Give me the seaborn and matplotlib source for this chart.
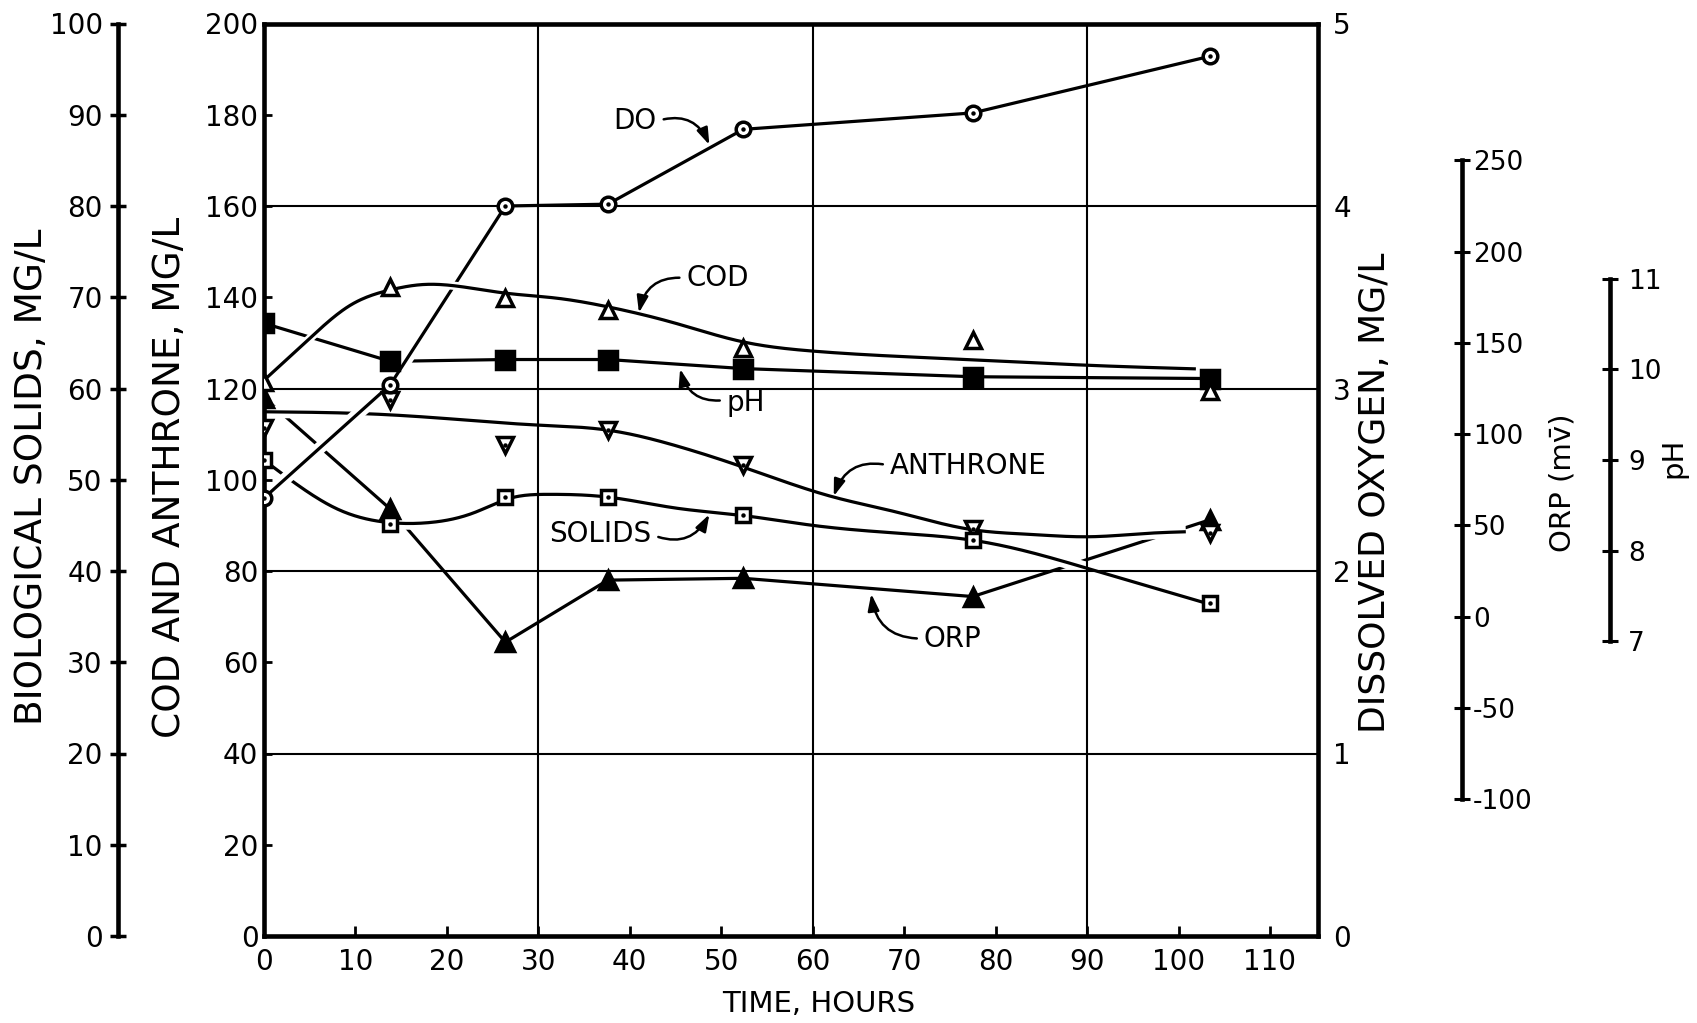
import numpy as np
import matplotlib
matplotlib.use("Agg")
import matplotlib.pyplot as plt
import matplotlib.patheffects as pe
import seaborn as sns

# ---------------- data ----------------
hours = [0, 13.8, 26.4, 37.6, 52.4, 77.5, 103.4]
do_mg_l = [2.40, 3.02, 4.00, 4.01, 4.42, 4.51, 4.82]
cod_mg_l = [121.5, 142.3, 139.8, 137.2, 128.8, 130.6, 119.5]
anthrone_mg_l = [111.3, 117.5, 107.6, 110.9, 103.2, 89.1, 88.3]
solids_mg_l = [52.2, 45.2, 48.1, 48.1, 46.1, 43.4, 36.5]
ph_values = [10.51, 10.09, 10.11, 10.11, 10.01, 9.92, 9.90]
orp_mv = [120, 59, -14, 20, 21, 11, 53]

# hand-drawn smooth curves (nodes)
cod_curve_h = [0, 5, 9.4, 13.8, 17.5, 22, 26.4, 32, 37.6, 45, 52.2, 60, 77.5, 90, 101.9]
cod_curve_v = [121.8, 131.0, 138.2, 141.6, 142.8, 142.2, 140.9, 139.8, 137.9, 134.3,
               130.3, 128.2, 126.3, 125.1, 124.3]
anth_curve_h = [0, 12, 20, 29.8, 37.5, 44.8, 52.2, 62.3, 69, 77.3, 84, 90, 97, 100.8]
anth_curve_v = [114.9, 114.4, 113.4, 112.0, 110.9, 107.6, 102.9, 96.2, 93.0, 89.1,
                88.0, 87.5, 88.3, 88.6]
sol_curve_h = [0, 4, 8, 13.8, 18, 23, 27, 31, 37.6, 45, 52.2, 60, 70, 77.3, 84, 90, 103.1]
sol_curve_v = [52.15, 49.2, 46.8, 45.3, 45.3, 46.4, 48.0, 48.4, 48.1, 46.9, 46.1, 45.0,
               44.1, 43.4, 42.0, 40.3, 36.45]

# axes scales / ticks
x_ticks = list(range(0, 111, 10))
cod_ticks = list(range(0, 201, 20))
bs_ticks = list(range(0, 101, 10))
do_ticks = [0, 1, 2, 3, 4, 5]
orp_ticks = [-100, -50, 0, 50, 100, 150, 200, 250]
ph_ticks = [7, 8, 9, 10, 11]
grid_x = [30, 60, 90]
grid_y = [40, 80, 120, 160]

# annotation labels
ann_text = ["DO", "COD", "pH", "ANTHRONE", "SOLIDS", "ORP"]
ann_text_xy = [(40.6, 178.6), (49.6, 144.2), (52.7, 116.9), (77.0, 103.1), (36.8, 88.0), (75.3, 65.2)]
ann_tip_xy = [(48.7, 173.4), (41.0, 136.6), (45.5, 124.3), (62.3, 96.4), (48.7, 92.4), (66.4, 75.0)]
ann_relpos = [(1, 0.5), (0, 0.5), (0, 0.6), (0, 0.5), (1, 0.5), (0, 0.5)]
ann_rad = [-0.45, 0.45, -0.45, 0.45, 0.45, -0.45]

# ---------------- style ----------------
plt.rcParams["font.family"] = ["DejaVu Sans"]
plt.rcParams["axes.unicode_minus"] = False
plt.rcParams["text.color"] = "black"

W, H = 1697, 1023
fig = plt.figure(figsize=(W / 100, H / 100), dpi=100, facecolor="white")
L, R, T, B = 264, 1318, 23.5, 936
ax = fig.add_axes([L / W, 1 - B / H, (R - L) / W, (B - T) / H])
ax.set_xlim(0, (R - L) / 9.145)
ax.set_ylim(0, 200)

ax_bs = ax.twinx()
ax_do = ax.twinx()
ax_orp = ax.twinx()
ax_ph = ax.twinx()
ax_bs.set_ylim(0, 100)
ax_do.set_ylim(0, 5)
ax_orp.set_ylim(-175, 325)
ax_ph.set_ylim(3.745, 13.82)

SPW = 3.3
for s in ax.spines.values():
    s.set_linewidth(SPW)
    s.set_color("black")
for a in (ax_bs, ax_do, ax_orp, ax_ph):
    for s in a.spines.values():
        s.set_visible(False)

# main axis ticks
ax.set_xticks(x_ticks)
ax.set_yticks(cod_ticks)
ax.tick_params(axis="x", direction="in", length=7, width=2, labelsize=20, pad=9, top=False)
ax.tick_params(axis="y", direction="in", length=6, width=2, labelsize=20, pad=4, right=False)

# biological solids axis (far left)
ax_bs.yaxis.set_ticks_position("left")
ax_bs.spines["left"].set_visible(True)
ax_bs.spines["left"].set_position(("axes", -0.1385))
ax_bs.spines["left"].set_linewidth(SPW)
ax_bs.set_yticks(bs_ticks)
ax_bs.tick_params(axis="y", direction="inout", length=12, width=2.5, labelsize=20, pad=5,
                  left=True, right=False, labelleft=True, labelright=False)

# dissolved oxygen axis (main right)
ax_do.set_yticks(do_ticks)
ax_do.tick_params(axis="y", length=0, labelsize=20, pad=11)

# ORP axis
ax_orp.spines["right"].set_visible(True)
ax_orp.spines["right"].set_position(("axes", 1.1366))
ax_orp.spines["right"].set_bounds(-100, 250)
ax_orp.spines["right"].set_linewidth(SPW)
ax_orp.set_yticks(orp_ticks)
ax_orp.tick_params(axis="y", direction="inout", length=12, width=2.2, labelsize=19, pad=2)

# pH axis
ax_ph.spines["right"].set_visible(True)
ax_ph.spines["right"].set_position(("axes", 1.277))
ax_ph.spines["right"].set_bounds(7, 11)
ax_ph.spines["right"].set_linewidth(SPW)
ax_ph.set_yticks(ph_ticks)
ax_ph.tick_params(axis="y", direction="inout", length=12, width=2.2, labelsize=19, pad=7)

# grid
for gx in grid_x:
    ax.axvline(gx, color="black", lw=1.5, zorder=2.5)
for gy in grid_y:
    ax.axhline(gy, color="black", lw=1.5, zorder=2.5)


def natural_spline(xs, ys, n=500):
    x = np.asarray(xs, float)
    y = np.asarray(ys, float)
    m = len(x)
    h = np.diff(x)
    A = np.zeros((m, m))
    rhs = np.zeros(m)
    A[0, 0] = 1
    A[-1, -1] = 1
    for i in range(1, m - 1):
        A[i, i - 1] = h[i - 1]
        A[i, i] = 2 * (h[i - 1] + h[i])
        A[i, i + 1] = h[i]
        rhs[i] = 3 * ((y[i + 1] - y[i]) / h[i] - (y[i] - y[i - 1]) / h[i - 1])
    c = np.linalg.solve(A, rhs)
    b = (y[1:] - y[:-1]) / h - h * (2 * c[:-1] + c[1:]) / 3
    d = (c[1:] - c[:-1]) / (3 * h)
    xx = np.linspace(x[0], x[-1], n)
    idx = np.clip(np.searchsorted(x, xx, side="right") - 1, 0, m - 2)
    dx = xx - x[idx]
    yy = y[idx] + b[idx] * dx + c[idx] * dx ** 2 + d[idx] * dx ** 3
    return xx, yy


def add_line(x, y, target, z, halo=None, lw=2.3):
    sns.lineplot(x=np.asarray(x), y=np.asarray(y), ax=ax, color="black", linewidth=lw,
                 estimator=None, sort=False, legend=False)
    ln = ax.lines[-1]
    ln.set_transform(target.transData)
    ln.set_zorder(z)
    ln.set_solid_capstyle("butt")
    if halo:
        ln.set_path_effects([pe.withStroke(linewidth=halo, foreground="white")])


def add_markers(x, y, target, marker, size, filled, dot=False, z=4):
    sns.lineplot(x=np.asarray(x), y=np.asarray(y), ax=ax, linestyle="", marker=marker,
                 markersize=size, markerfacecolor="black" if filled else "white",
                 markeredgecolor="black", markeredgewidth=2.5, color="black",
                 estimator=None, sort=False, legend=False)
    ln = ax.lines[-1]
    ln.set_transform(target.transData)
    ln.set_zorder(z)
    if dot:
        sns.lineplot(x=np.asarray(x), y=np.asarray(y), ax=ax, linestyle="", marker="o",
                     markersize=3.2, color="black", markeredgewidth=0,
                     estimator=None, sort=False, legend=False)
        d = ax.lines[-1]
        d.set_transform(target.transData)
        d.set_zorder(z + 0.1)


# lines (lower -> upper)
add_line(hours, orp_mv, ax_orp, 1.0)
add_line(hours, ph_values, ax_ph, 1.1)
cx, cy = natural_spline(anth_curve_h, anth_curve_v)
add_line(cx, cy, ax, 1.2, halo=9)
cx, cy = natural_spline(sol_curve_h, sol_curve_v)
add_line(cx, cy, ax_bs, 1.3, halo=9)
add_line(hours, do_mg_l, ax_do, 1.4, halo=9)
cx, cy = natural_spline(cod_curve_h, cod_curve_v)
add_line(cx, cy, ax, 1.5, halo=6)

# markers
add_markers(hours, orp_mv, ax_orp, "^", 13, True)
add_markers(hours, ph_values, ax_ph, "s", 13, True)
add_markers(hours, anthrone_mg_l, ax, "v", 12, False, dot=True)
add_markers(hours, solids_mg_l, ax_bs, "s", 10.5, False, dot=True)
add_markers(hours, do_mg_l, ax_do, "o", 10.5, False, dot=True)
add_markers(hours, cod_mg_l, ax, "^", 12, False)

ax.set_xlim(0, (R - L) / 9.145)
ax.set_ylim(0, 200)
ax.set_xlabel("")
ax.set_ylabel("")
ax.patch.set_facecolor("white")

# annotations with curved arrows
for txt, txy, tip, rp, rad in zip(ann_text, ann_text_xy, ann_tip_xy, ann_relpos, ann_rad):
    ax.annotate(txt, xy=tip, xytext=txy, ha="center", va="center", fontsize=20, zorder=6,
                arrowprops=dict(arrowstyle="-|>,head_length=0.5,head_width=0.17", lw=1.8,
                                color="black", relpos=rp, shrinkA=3, shrinkB=0,
                                connectionstyle=f"arc3,rad={rad}"))

# axis titles
fig.text(32 / W, 1 - 476.5 / H, "BIOLOGICAL SOLIDS, MG/L", rotation=90, ha="center", va="center", fontsize=27)
fig.text(170 / W, 1 - 477.5 / H, "COD AND ANTHRONE, MG/L", rotation=90, ha="center", va="center", fontsize=27)
fig.text(1375 / W, 1 - 493 / H, "DISSOLVED OXYGEN, MG/L", rotation=90, ha="center", va="center", fontsize=26)
fig.text(1563 / W, 1 - 483 / H, "ORP (mv\u0304)", rotation=90, ha="center", va="center", fontsize=21)
fig.text(1673 / W, 1 - 458 / H, "pH", rotation=90, ha="center", va="center", fontsize=21)
fig.text(819 / W, 1 - 1004 / H, "TIME, HOURS", ha="center", va="center", fontsize=21)

fig.savefig("out.png", dpi=100, facecolor="white")
